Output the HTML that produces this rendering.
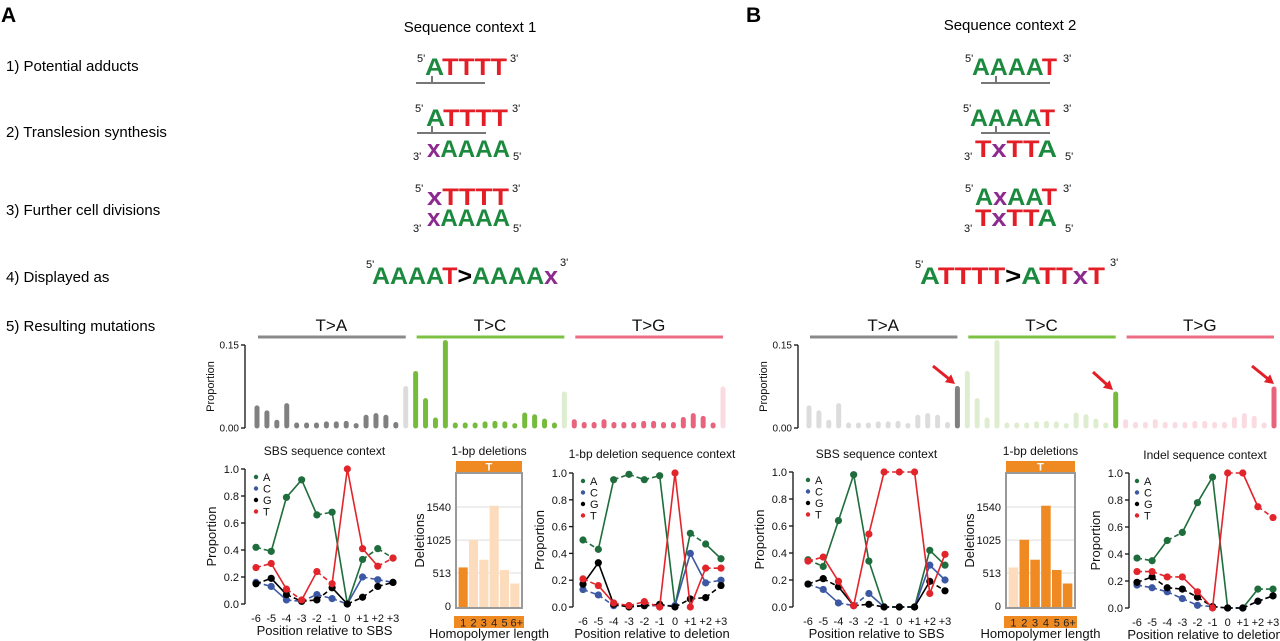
<!DOCTYPE html>
<html><head><meta charset="utf-8"><style>
html,body{margin:0;padding:0;background:#fff;}
svg{display:block;font-family:"Liberation Sans",Arial,sans-serif;}
.seq{font-weight:bold;font-size:24px;}
</style></head><body>
<svg id="fig" width="1280" height="641" viewBox="0 0 1280 641" xmlns="http://www.w3.org/2000/svg">
<g>
<text x="1" y="22" font-size="21" font-weight="bold">A</text>
<text x="746" y="22" font-size="21" font-weight="bold">B</text>
<text x="470" y="32" font-size="15" text-anchor="middle">Sequence context 1</text>
<text x="1010" y="30" font-size="15" text-anchor="middle">Sequence context 2</text>
</g>
<g font-size="15">
<text x="6" y="71">1)  Potential adducts</text>
<text x="6" y="137">2)  Translesion synthesis</text>
<text x="6" y="215">3)  Further cell divisions</text>
<text x="6" y="282">4)  Displayed as</text>
<text x="6" y="331">5)  Resulting mutations</text>
</g>
<g id="seqs"></g>
<g id="charts"></g>
</svg>
<script>
// ---- bar chart data (16 per substitution group, last = indel-associated) ----
const barGroups = ["T>A","T>C","T>G"];
const barTA = [0.040,0.031,0.014,0.044,0.009,0.009,0.009,0.011,0.011,0.012,0.008,0.023,0.026,0.023,0.010,0.075];
const barTC = [0.102,0.053,0.018,0.158,0.009,0.009,0.009,0.011,0.012,0.011,0.008,0.027,0.024,0.016,0.009,0.065];
const barTG = [0.015,0.010,0.010,0.015,0.010,0.010,0.010,0.012,0.012,0.010,0.010,0.019,0.026,0.021,0.009,0.074];
const barTicks = [0, 0.15];
const barTickLabels = ["0.00","0.15"];
// ---- line charts ----
const positions = ["-6","-5","-4","-3","-2","-1","0","+1","+2","+3"];
const bases = ["A","C","G","T"];
const sbsA_A = [0.42,0.39,0.79,0.92,0.66,0.68,0.00,0.33,0.41,0.34];
const sbsA_C = [0.16,0.13,0.03,0.02,0.07,0.04,0.00,0.20,0.18,0.16];
const sbsA_G = [0.15,0.19,0.07,0.02,0.03,0.12,0.00,0.05,0.13,0.16];
const sbsA_T = [0.27,0.30,0.11,0.03,0.24,0.15,1.00,0.41,0.28,0.34];
const delA_A = [0.50,0.43,0.95,0.99,0.95,0.98,0.01,0.55,0.47,0.36];
const delA_C = [0.13,0.09,0.01,0.01,0.01,0.01,0.01,0.40,0.18,0.20];
const delA_G = [0.17,0.33,0.02,0.00,0.01,0.02,0.00,0.06,0.07,0.16];
const delA_T = [0.21,0.16,0.03,0.01,0.04,0.00,1.00,0.00,0.29,0.29];
const sbsB_A = [0.35,0.30,0.64,0.98,0.34,0.00,0.00,0.00,0.42,0.31];
const sbsB_C = [0.17,0.13,0.03,0.01,0.10,0.00,0.00,0.00,0.31,0.20];
const sbsB_G = [0.17,0.21,0.15,0.01,0.02,0.00,0.00,0.00,0.19,0.12];
const sbsB_T = [0.34,0.37,0.19,0.01,0.54,1.00,1.00,1.00,0.10,0.39];
const delB_A = [0.37,0.35,0.50,0.56,0.78,0.97,0.00,0.00,0.14,0.14];
const delB_C = [0.17,0.15,0.12,0.07,0.02,0.01,0.00,0.00,0.05,0.09];
const delB_G = [0.19,0.23,0.15,0.14,0.08,0.01,0.00,0.00,0.05,0.09];
const delB_T = [0.27,0.27,0.23,0.23,0.12,0.00,1.00,1.00,0.75,0.67];
const lineTicks = [0,0.2,0.4,0.6,0.8,1.0];
const lineTickLabels = ["0.0","0.2","0.4","0.6","0.8","1.0"];
// ---- homopolymer histogram ----
const homoCats = ["1","2","3","4","5","6+"];
const homoCounts = [600,1030,720,1560,560,350];
const homoTicks = [0,513,1025,1540];

const NS="http://www.w3.org/2000/svg";
function el(tag,parent){const e=document.createElementNS(NS,tag);parent.appendChild(e);return e;}
function txt(parent,x,y,s,size,anchor,fill){const t=el('text',parent);t.setAttribute('x',x);t.setAttribute('y',y);t.setAttribute('font-size',size);if(anchor)t.setAttribute('text-anchor',anchor);if(fill)t.setAttribute('fill',fill);t.textContent=s;return t;}
function line(parent,x1,y1,x2,y2,stroke,w){const l=el('line',parent);l.setAttribute('x1',x1);l.setAttribute('y1',y1);l.setAttribute('x2',x2);l.setAttribute('y2',y2);l.setAttribute('stroke',stroke);l.setAttribute('stroke-width',w);return l;}

const G="#1c8a3e",R="#e31e26",P="#8c2a8f",K="#000";
const seqRoot=document.getElementById('seqs');
function seq(name,x,y,len,parts){
  const t=el('text',seqRoot);
  
  
  t.setAttribute('class','seq');t.setAttribute('x',x);t.setAttribute('y',y);
  t.setAttribute('textLength',len);t.setAttribute('lengthAdjust','spacingAndGlyphs');
  parts.forEach(p=>{const s=el('tspan',t);s.setAttribute('fill',p[1]);s.textContent=p[0];});
}
function prime(name,x,y,s){const t=txt(seqRoot,x,y,s,11,null,'#111');
  
  }
function bracket(name,x1,x2,y,tx){const g=el('g',seqRoot);
  
  
  line(g,x1,y,x2,y,'#777',2);line(g,tx,y-7,tx,y,'#777',2);}
// Panel A sequences
prime('five-prime',417,62,"5'");seq('adduct-seq-a',425,75,82,[["A",G],["TTTT",R]]);prime('three-prime',510,62,"3'");
bracket('adduct-bracket-a',416,485,83,432);
prime('five-prime',415,112,"5'");seq('tls-top-a',426,126,82,[["A",G],["TTTT",R]]);prime('three-prime',512,112,"3'");
bracket('tls-bracket-a',417,486,133,432);
prime('three-prime',413,160,"3'");seq('tls-bottom-a',427,157,83,[["x",P],["AAAA",G]]);prime('five-prime',513,160,"5'");
prime('five-prime',415,192,"5'");seq('division-top-a',427,205,82,[["x",P],["TTTT",R]]);prime('three-prime',512,192,"3'");
prime('three-prime',413,232,"3'");seq('division-bottom-a',427,226,83,[["x",P],["AAAA",G]]);prime('five-prime',513,232,"5'");
prime('five-prime',366,268,"5'");seq('display-seq-a',372,284,186,[["AAAA",G],["T",R],[">",K],["AAAA",G],["x",P]]);prime('three-prime',560,266,"3'");
// Panel B sequences
prime('five-prime',965,62,"5'");seq('adduct-seq-b',972,75,85,[["AAAA",G],["T",R]]);prime('three-prime',1063,62,"3'");
bracket('adduct-bracket-b',981,1050,83,996);
prime('five-prime',963,112,"5'");seq('tls-top-b',970,126,85,[["AAAA",G],["T",R]]);prime('three-prime',1063,112,"3'");
bracket('tls-bracket-b',981,1050,133,996);
prime('three-prime',964,160,"3'");seq('tls-bottom-b',975,157,82,[["T",R],["x",P],["TT",R],["A",G]]);prime('five-prime',1065,160,"5'");
prime('five-prime',965,192,"5'");seq('division-top-b',975,205,82,[["A",G],["x",P],["AA",G],["T",R]]);prime('three-prime',1063,192,"3'");
prime('three-prime',964,232,"3'");seq('division-bottom-b',975,226,82,[["T",R],["x",P],["TT",R],["A",G]]);prime('five-prime',1065,232,"5'");
prime('five-prime',915,268,"5'");seq('display-seq-b',920,284,185,[["A",G],["TTTT",R],[">",K],["A",G],["TT",R],["x",P],["T",R]]);prime('three-prime',1110,266,"3'");

const charts=document.getElementById('charts');
const groupColors=["#808080","#76bb3b","#e9637c"];
const groupFaded=["#dcdcdc","#deedcf","#fadbe1"];
const headerColors=["#8a8a8a","#7cc143","#ec6c83"];
const groupData=[barTA,barTC,barTG];

function barChart(name,axisX,x0,x1,highlightAll){
  const g=el('g',charts);
  
  
  const y0=428,yTop=345,maxV=0.15;
  const yScale=v=>y0-(v/maxV)*(y0-yTop);
  const n=groupData.length*groupData[0].length;
  const step=(x1-x0)/(n-1);
  const xScale=i=>x0+i*step;
  line(g,axisX,yTop,axisX,y0,'#111',1.3);
  barTicks.forEach((v,i)=>{line(g,axisX-4,yScale(v),axisX,yScale(v),'#111',1.3);
    const t=txt(g,axisX-6,yScale(v)+3.5,barTickLabels[i],10,'end','#111');
    
    });
  const yl=txt(g,0,0,"Proportion",11,'middle','#111');
  yl.setAttribute('transform',`translate(${axisX-31},${(y0+yTop)/2}) rotate(-90)`);
  
  
  let idx=0;
  groupData.forEach((arr,gi)=>{
    const gx0=xScale(idx),gx1=xScale(idx+arr.length-1);
    const hl=line(g,gx0+1,337,gx1,337,headerColors[gi],3);
    
    
    const ht=txt(g,(gx0+gx1)/2,331,barGroups[gi],17,'middle','#111');
    
    
    arr.forEach((v,j)=>{
      const x=xScale(idx);const last=j===arr.length-1;
      const faded=highlightAll?!last:last;
      const col=faded?groupFaded[gi]:groupColors[gi];
      const yt=Math.min(yScale(v),y0-3);
      const b=line(g,x,y0-2,x,yt+2,col,5);
      b.setAttribute('stroke-linecap','round');
      
      
      idx++;
    });
  });
}
barChart('mutation-profile-a',245,257,723,false);
barChart('mutation-profile-b',798,809,1274,true);
[[933,366,955,384],[1093,372,1113,390],[1252,366,1274,384]].forEach(a=>{
  const g=el('g',charts);
  
  
  line(g,a[0],a[1],a[2]-4,a[3]-3.5,'#e31e26',3);
  const p=el('polygon',g);
  const dx=a[2]-a[0],dy=a[3]-a[1],L=Math.hypot(dx,dy),ux=dx/L,uy=dy/L;
  const bx=a[2]-ux*9,by=a[3]-uy*9;
  p.setAttribute('points',`${a[2]},${a[3]} ${bx-uy*5},${by+ux*5} ${bx+uy*5},${by-ux*5}`);
  p.setAttribute('fill','#e31e26');
});

const baseColors={A:"#1f6d3c",C:"#3d58a3",G:"#000000",T:"#e2242b"};
function lineChart(name,axisX,xa,xb,yTop,y0,title,xTitle,series){
  const g=el('g',charts);
  
  
  const xScale=i=>xa+i*(xb-xa)/(positions.length-1);
  const yScale=v=>y0-v*(y0-yTop);
  line(g,axisX,yTop,axisX,y0,'#111',1.3);
  lineTicks.forEach((v,i)=>{line(g,axisX-4,yScale(v),axisX,yScale(v),'#111',1.3);
    const t=txt(g,axisX-6,yScale(v)+4,lineTickLabels[i],11,'end','#111');
    
    });
  positions.forEach((p,i)=>{const t=txt(g,xScale(i),y0+18,p,11,'middle','#111');
    
    });
  const tt=txt(g,(xa+xb)/2,y0-149,title,12,'middle','#111');
  
  
  const xt=txt(g,(xa+xb)/2,y0+31,xTitle,13,'middle','#111');
  
  
  const yl=txt(g,0,0,"Proportion",13,'middle','#111');
  yl.setAttribute('transform',`translate(${axisX-29},${(y0+yTop)/2}) rotate(-90)`);
  
  
  series.forEach((vals,si)=>{
    const col=baseColors[bases[si]];
    const sg=el('g',g);
    
    
    for(let i=0;i<vals.length-1;i++){
      const l=line(sg,xScale(i),yScale(vals[i]),xScale(i+1),yScale(vals[i+1]),col,1.6);
      if(Math.abs(vals[i+1]-vals[i])<0.1) l.setAttribute('stroke-dasharray','5,3');
    }
    vals.forEach((v,i)=>{const c=el('circle',sg);c.setAttribute('cx',xScale(i));c.setAttribute('cy',yScale(v));c.setAttribute('r',3.6);c.setAttribute('fill',col);
      
      });
  });
  bases.forEach((b,i)=>{
    const ly=yTop+8+i*11.5;
    const c=el('circle',g);c.setAttribute('cx',xa);c.setAttribute('cy',ly);c.setAttribute('r',2.2);c.setAttribute('fill',baseColors[b]);
    
    
    const t=txt(g,xa+7,ly+4,b,11,null,'#111');
    
    
  });
}
lineChart('sbs-context-a',245,256,393,469,604,"SBS sequence context","Position relative to SBS",[sbsA_A,sbsA_C,sbsA_G,sbsA_T]);
lineChart('deletion-context-a',573,583,721,473,607,"1-bp deletion sequence context","Position relative to deletion",[delA_A,delA_C,delA_G,delA_T]);
lineChart('sbs-context-b',793,808,945,472,607,"SBS sequence context","Position relative to SBS",[sbsB_A,sbsB_C,sbsB_G,sbsB_T]);
lineChart('indel-context-b',1129,1137,1273,473,608,"Indel sequence context","Position relative to deletion",[delB_A,delB_C,delB_G,delB_T]);

function homoChart(name,bx0,bx1,fadeFirst){
  const g=el('g',charts);
  
  
  const top=473,bot=608,y0=606,y1540=507;
  const yScale=v=>y0-v*(y0-y1540)/1540;
  const w=(bx1-bx0);const step=(w-4)/homoCats.length;
  const xScale=i=>bx0+2+step*(i+0.5);
  homoTicks.forEach(v=>{ if(v>0) line(g,bx0,yScale(v),bx1,yScale(v),'#e4e4e4',1.2);
    const t=txt(g,bx0-5,yScale(v)+4,String(v),11,'end','#111');
    
    });
  homoCounts.forEach((v,i)=>{
    const r=el('rect',g);const bw=step*0.88;
    r.setAttribute('x',xScale(i)-bw/2);r.setAttribute('y',yScale(v));r.setAttribute('width',bw);r.setAttribute('height',bot-yScale(v)-1);
    const dark=fadeFirst?i>0:i===0;
    r.setAttribute('fill',dark?'#ef8a22':'#fcdcbd');
    
    
  });
  const box=el('rect',g);box.setAttribute('x',bx0);box.setAttribute('y',top);box.setAttribute('width',w);box.setAttribute('height',bot-top);
  box.setAttribute('fill','none');box.setAttribute('stroke','#999');box.setAttribute('stroke-width',2);
  
  
  const hb=el('rect',g);hb.setAttribute('x',bx0);hb.setAttribute('y',461);hb.setAttribute('width',w);hb.setAttribute('height',11);hb.setAttribute('fill','#ef8a22');
  
  
  const ht=txt(g,(bx0+bx1)/2,470.5,"T",11,'middle','#fff');ht.setAttribute('font-weight','bold');
  
  
  const fb=el('rect',g);fb.setAttribute('x',bx0-2);fb.setAttribute('y',616);fb.setAttribute('width',w+4);fb.setAttribute('height',12);fb.setAttribute('fill','#ef8a22');
  
  
  homoCats.forEach((c,i)=>{const t=txt(g,xScale(i)+(i===5?2:0),626.5,c,11,'middle','#222');
    
    });
  const tt=txt(g,(bx0+bx1)/2,455,"1-bp deletions",12,'middle','#111');
  
  
  const xt=txt(g,(bx0+bx1)/2,638,"Homopolymer length",13,'middle','#111');
  
  
  const yl=txt(g,0,0,"Deletions",13,'middle','#111');
  yl.setAttribute('transform',`translate(${bx0-32},${(top+bot)/2}) rotate(-90)`);
  
  
}
homoChart('homopolymer-histogram-a',456,522,false);
homoChart('homopolymer-histogram-b',1006,1075,true);
</script>
</body></html>
